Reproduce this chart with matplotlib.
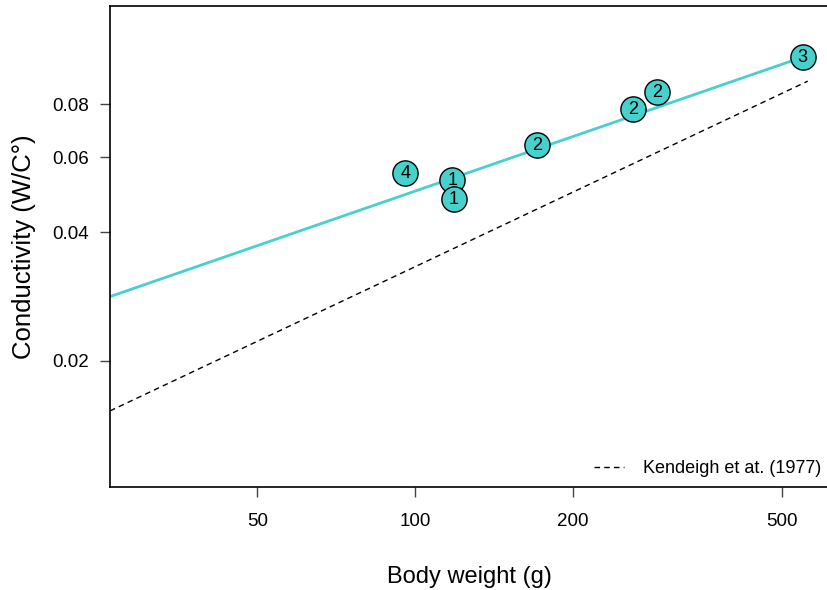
import matplotlib.pyplot as plt

plt.rcParams['font.family'] = ['Liberation Sans', 'DejaVu Sans']

# measured birds: body weight (g), conductivity (W/C), sample count
weight = [95.7, 117.6, 118.6, 170.8, 260, 289, 548]
conduct = [0.0550, 0.0530, 0.0478, 0.0641, 0.0779, 0.0854, 0.1032]
counts = ['4', '1', '1', '2', '2', '2', '3']

# fitted allometric line (end points)
fit_x = [26.2, 548]
fit_y = [0.02827, 0.1032]

# Kendeigh et al. (1977) allometric line (end points)
kend_x = [26.2, 560]
kend_y = [0.01524, 0.0906]

col = '#48D1CC'

fig = plt.figure(figsize=(8.28, 5.90), dpi=100)
ax = fig.add_axes([110 / 828, 103 / 590, 718 / 828, 481 / 590])

ax.plot(fit_x, fit_y, color=col, lw=2, zorder=2)
ax.plot(kend_x, kend_y, color='black', lw=1, ls=(0, (4, 3)), zorder=2,
        label='Kendeigh et at. (1977)')
ax.scatter(weight, conduct, s=330, facecolor=col, edgecolor='black',
           linewidth=1, zorder=3)
for x, y, n in zip(weight, conduct, counts):
    ax.text(x, y, n, ha='center', va='center', fontsize=13, zorder=4)

ax.set_xscale('log')
ax.set_yscale('log')
ax.set_xlim(26.2, 612)
ax.set_ylim(0.0101, 0.136)

ax.set_xticks([50, 100, 200, 500])
ax.set_xticklabels(['50', '100', '200', '500'])
ax.set_yticks([0.02, 0.04, 0.06, 0.08])
ax.set_yticklabels(['0.02', '0.04', '0.06', '0.08'])
ax.minorticks_off()
ax.tick_params(direction='out', length=7, width=1, color='#444444',
               labelsize=13.5)
ax.tick_params(axis='x', pad=12)
ax.tick_params(axis='y', pad=8)
ax.spines['right'].set_visible(False)
for s in ['left', 'top', 'bottom']:
    ax.spines[s].set_linewidth(1.2)

ax.set_xlabel('Body weight (g)', fontsize=17, labelpad=26)
ax.set_ylabel('Conductivity (W/C°)', fontsize=18.5, labelpad=12)

ax.legend(loc='lower right', frameon=False, fontsize=13, handlelength=1.7,
          handletextpad=1.0, borderaxespad=0.0, bbox_to_anchor=(1.0, 0.005))

fig.savefig('out.png', dpi=100)
